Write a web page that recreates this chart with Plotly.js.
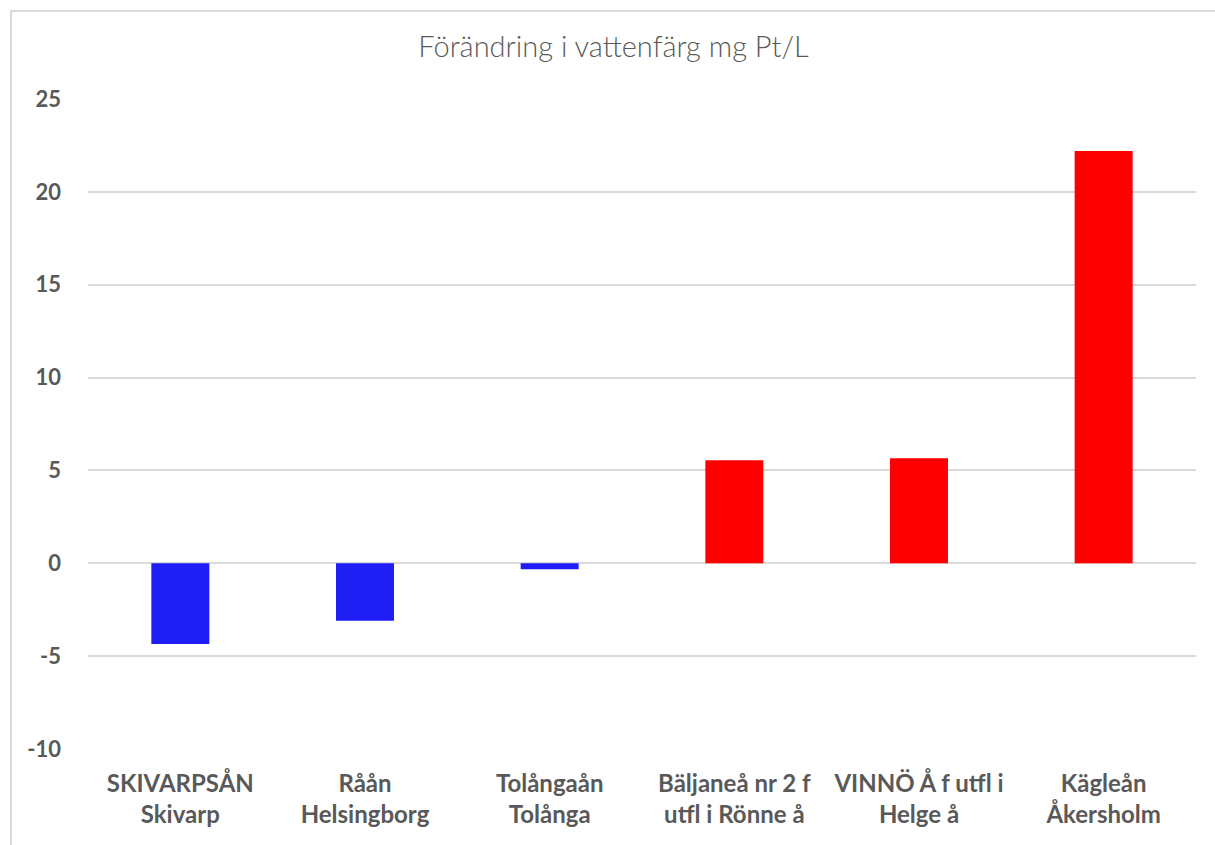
<!DOCTYPE html>
<html>
<head>
<meta charset="utf-8">
<script src="https://cdn.plot.ly/plotly-3.0.1.min.js"></script>
<style>
  html, body { margin: 0; padding: 0; background: #fff; }
  #wrap { position: relative; width: 1215px; height: 845px; overflow: hidden; }
  #frame { position: absolute; left: 10px; top: 10px; width: 1300px; height: 1000px;
           border-left: 2px solid #d9d9d9; border-top: 2px solid #d9d9d9; box-sizing: border-box; }
  #chart { position: absolute; left: 0; top: 0; width: 1215px; height: 845px; }
</style>
</head>
<body>
<div id="wrap">
  <div id="frame"></div>
  <div id="chart"></div>
</div>
<script>
const categories = [
  "SKIVARPSÅN<br>Skivarp",
  "Råån<br>Helsingborg",
  "Tolångaån<br>Tolånga",
  "Bäljaneå nr 2 f<br>utfl i Rönne å",
  "VINNÖ Å f utfl i<br>Helge å",
  "Kägleån<br>Åkersholm"
];
const values = [-4.35, -3.1, -0.32, 5.55, 5.65, 22.2];
const yTicks = [-10, -5, 0, 5, 10, 15, 20, 25];
const chartTitle = "Förändring i vattenfärg mg Pt/L";

const colors = values.map(v => v < 0 ? "#1f1ff5" : "#ff0000");

const trace = {
  type: "bar",
  x: categories,
  y: values,
  marker: { color: colors, line: { width: 0 } },
  hoverinfo: "x+y"
};

const layout = {
  width: 1215,
  height: 845,
  paper_bgcolor: "rgba(0,0,0,0)",
  plot_bgcolor: "rgba(0,0,0,0)",
  margin: { l: 88, r: 19, t: 99, b: 96 },
  bargap: 0.686,
  showlegend: false,
  title: {
    text: chartTitle,
    font: { family: "Lato, 'Open Sans', sans-serif", size: 29, color: "#595959", weight: 300 },
    x: 0.505, xanchor: "center",
    y: 1 - 47 / 845, yref: "container", yanchor: "middle"
  },
  xaxis: {
    type: "category",
    showgrid: false,
    zeroline: false,
    showline: false,
    ticks: "",
    ticklabelstandoff: 18,
    tickfont: { family: "Lato, 'Open Sans', sans-serif", size: 24, color: "#595959", weight: "bold" },
    fixedrange: true
  },
  yaxis: {
    range: [-10, 25],
    tickvals: yTicks,
    ticktext: yTicks.map(String),
    showgrid: true,
    gridcolor: "#d9d9d9",
    gridwidth: 1.5,
    zeroline: false,
    showline: false,
    ticks: "",
    ticklabelstandoff: 26,
    tickfont: { family: "Lato, 'Open Sans', sans-serif", size: 22, color: "#595959", weight: "bold" },
    fixedrange: true
  }
};

Plotly.newPlot("chart", [trace], layout, { displayModeBar: false, staticPlot: false });
</script>
</body>
</html>
